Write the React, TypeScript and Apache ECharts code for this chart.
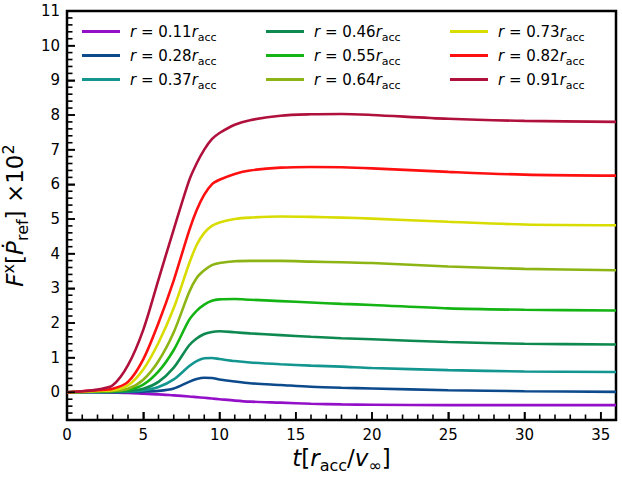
import React, { useEffect, useRef } from "react";
import * as echarts from "echarts";

const T = [0, 1, 2, 3, 4, 5, 6, 7, 8, 8.5, 9, 9.5, 10, 11, 12, 14, 16, 18, 20, 25, 30, 36];
const radii = ["0.11", "0.28", "0.37", "0.46", "0.55", "0.64", "0.73", "0.82", "0.91"];
const colors = ["#9410c8", "#0c4a8c", "#139690", "#0e8a50", "#14b414", "#8cb414", "#d8dc00", "#ff1010", "#b0103c"];

const r011 = [0, 0, 0, -0.01, -0.02, -0.04, -0.06, -0.09, -0.12, -0.14, -0.16, -0.18, -0.2, -0.24, -0.27, -0.3, -0.33, -0.35, -0.36, -0.37, -0.37, -0.37];
const r028 = [0, 0.005, 0.005, 0.005, 0.01, 0.02, 0.04, 0.11, 0.3, 0.38, 0.42, 0.41, 0.37, 0.31, 0.26, 0.21, 0.16, 0.13, 0.11, 0.06, 0.03, 0.01];
const r037 = [0, 0.01, 0.01, 0.01, 0.02, 0.05, 0.15, 0.37, 0.75, 0.9, 0.98, 0.99, 0.96, 0.9, 0.86, 0.81, 0.77, 0.74, 0.7, 0.64, 0.6, 0.585];
const r046 = [0, 0.01, 0.01, 0.02, 0.04, 0.1, 0.3, 0.71, 1.35, 1.55, 1.68, 1.74, 1.76, 1.73, 1.7, 1.65, 1.6, 1.56, 1.53, 1.45, 1.4, 1.38];
const r055 = [0, 0.01, 0.02, 0.03, 0.07, 0.22, 0.6, 1.22, 2.08, 2.35, 2.53, 2.64, 2.68, 2.69, 2.67, 2.63, 2.59, 2.55, 2.52, 2.42, 2.38, 2.36];
const r064 = [0, 0.01, 0.03, 0.04, 0.1, 0.36, 0.9, 1.73, 2.88, 3.3, 3.52, 3.67, 3.73, 3.78, 3.79, 3.79, 3.77, 3.75, 3.73, 3.63, 3.56, 3.52];
const r073 = [0, 0.02, 0.04, 0.06, 0.2, 0.66, 1.43, 2.43, 3.7, 4.25, 4.6, 4.8, 4.9, 5.0, 5.04, 5.07, 5.06, 5.04, 5.01, 4.92, 4.84, 4.82];
const r082 = [0, 0.03, 0.06, 0.1, 0.3, 0.95, 2.0, 3.23, 4.65, 5.25, 5.7, 6.0, 6.13, 6.3, 6.4, 6.48, 6.5, 6.49, 6.46, 6.36, 6.28, 6.25];
const r091 = [0, 0.03, 0.08, 0.2, 0.78, 1.8, 3.25, 4.7, 6.1, 6.6, 7.0, 7.3, 7.48, 7.72, 7.85, 7.98, 8.02, 8.03, 8.0, 7.89, 7.83, 7.8];

const allValues = [r011, r028, r037, r046, r055, r064, r073, r082, r091];

const xMajorInterval = 5;
const yMin = -0.8;
const yMax = 11;
const xMin = 0;
const xMax = 36;

// tick positions (axis values)
const xMajorTicks = [0, 5, 10, 15, 20, 25, 30, 35];
const xMinorTicks = [1, 2, 3, 4, 6, 7, 8, 9, 11, 12, 13, 14, 16, 17, 18, 19, 21, 22, 23, 24, 26, 27, 28, 29, 31, 32, 33, 34];
const yMajorTicks = [0, 1, 2, 3, 4, 5, 6, 7, 8, 9, 10, 11];
const yMinorTicks: number[] = [];
for (let k = -3; k < 55; k++) {
  if (k % 5 !== 0) yMinorTicks.push(k / 5);
}

const FONT = "DejaVu Sans";

export default function App() {
  const ref = useRef<HTMLDivElement>(null);
  useEffect(() => {
    if (!ref.current) return;
    const chart = echarts.init(ref.current, undefined, { renderer: "svg" });
    const names = radii.map((r) => `r=${r}`);
    const legendRich = {
      it: { fontFamily: FONT, fontStyle: "italic", fontSize: 15, color: "#000", lineHeight: 22 },
      n: { fontFamily: FONT, fontSize: 15, color: "#000", lineHeight: 22 },
      sub: { fontFamily: FONT, fontSize: 11, color: "#000", lineHeight: 12, verticalAlign: "bottom" },
    };
    const nameRich = {
      fi: { fontFamily: FONT, fontStyle: "italic", fontSize: 23, color: "#000", lineHeight: 30 },
      n: { fontFamily: FONT, fontSize: 23, color: "#000", lineHeight: 30 },
      sub: { fontFamily: FONT, fontSize: 16, color: "#000", lineHeight: 16, verticalAlign: "bottom" },
      sup: { fontFamily: FONT, fontSize: 16, color: "#000", lineHeight: 16, verticalAlign: "top" },
    };
    const tickData: number[][] = [
      ...xMajorTicks.map((v) => [v, 0]),
      ...xMinorTicks.map((v) => [v, 1]),
      ...yMajorTicks.map((v) => [v, 2]),
      ...yMinorTicks.map((v) => [v, 3]),
    ];
    const option: any = {
      animation: false,
      backgroundColor: "#fff",
      grid: {
        left: 67,
        right: 6,
        top: 11,
        bottom: 57,
        show: true,
        borderColor: "#000",
        borderWidth: 2.5,
        backgroundColor: "transparent",
        outerBoundsMode: "none",
      },
      legend: [0, 1, 2].map((c) => ({
        data: names.slice(c * 3, c * 3 + 3),
        orient: "vertical",
        left: [82, 266, 450][c],
        top: 24,
        itemWidth: 38,
        itemHeight: 3,
        itemGap: 5.5,
        icon: "rect",
        selectedMode: false,
        padding: 0,
        textStyle: { rich: legendRich, padding: [0, 0, 0, 5] },
        formatter: (name: string) => {
          const r = name.slice(2);
          return `{it|r}{n| = ${r}}{it|r}{sub|acc}`;
        },
      })),
      xAxis: {
        type: "value",
        min: xMin,
        max: xMax,
        interval: xMajorInterval,
        name: "{fi|t}{n|[}{fi|r}{sub|acc}{n|/}{fi|v}{sub|∞}{n|]}",
        nameLocation: "middle",
        nameGap: 23,
        nameTextStyle: { rich: nameRich, verticalAlign: "top" },
        axisLine: { show: false, onZero: false },
        axisTick: { show: true, inside: true, length: 8, lineStyle: { color: "#000", width: 1.5 } },
        axisLabel: { fontFamily: FONT, fontSize: 15, color: "#000", margin: 7, showMaxLabel: false },
        splitLine: { show: false },
      },
      yAxis: {
        type: "value",
        min: yMin,
        max: yMax,
        minInterval: 1,
        maxInterval: 1,
        name: "{fi|F}{sup|x}{n|[}{fi|Ṗ}{sub|ref}{n|] ×10}{sup|2}",
        nameLocation: "middle",
        nameGap: 22,
        nameTextStyle: { rich: nameRich },
        axisLine: { show: false },
        axisTick: { show: true, inside: true, length: 8, lineStyle: { color: "#000", width: 1.5 } },
        axisLabel: { fontFamily: FONT, fontSize: 15, color: "#000", margin: 7, showMinLabel: false },
        splitLine: { show: false },
      },
      series: [
        ...allValues.map((vals, i) => ({
          type: "line",
          name: names[i],
          data: T.map((t, j) => [t, vals[j]]),
          showSymbol: false,
          smooth: 0.3,
          color: colors[i],
          lineStyle: { color: colors[i], width: 2.6 },
          z: 2 + i,
        })),
        {
          type: "custom",
          name: "ticks",
          silent: true,
          clip: false,
          z: 20,
          data: tickData,
          renderItem: (_params: any, api: any) => {
            const v = api.value(0);
            const kind = api.value(1);
            const len = kind === 0 || kind === 2 ? 8 : 5.5;
            if (kind <= 1) {
              const p = api.coord([v, yMin]);
              return {
                type: "line",
                shape: { x1: p[0], y1: p[1], x2: p[0], y2: p[1] - len },
                style: { stroke: "#000", lineWidth: 1.6 },
              };
            }
            const p = api.coord([xMin, v]);
            return {
              type: "line",
              shape: { x1: p[0], y1: p[1], x2: p[0] + len, y2: p[1] },
              style: { stroke: "#000", lineWidth: 1.6 },
            };
          },
        },
      ],
    };
    chart.setOption(option);
    return () => chart.dispose();
  }, []);
  return (
    <div
      ref={ref}
      style={{ position: "absolute", left: 0, top: 0, width: 622, height: 477, background: "#fff" }}
    />
  );
}
